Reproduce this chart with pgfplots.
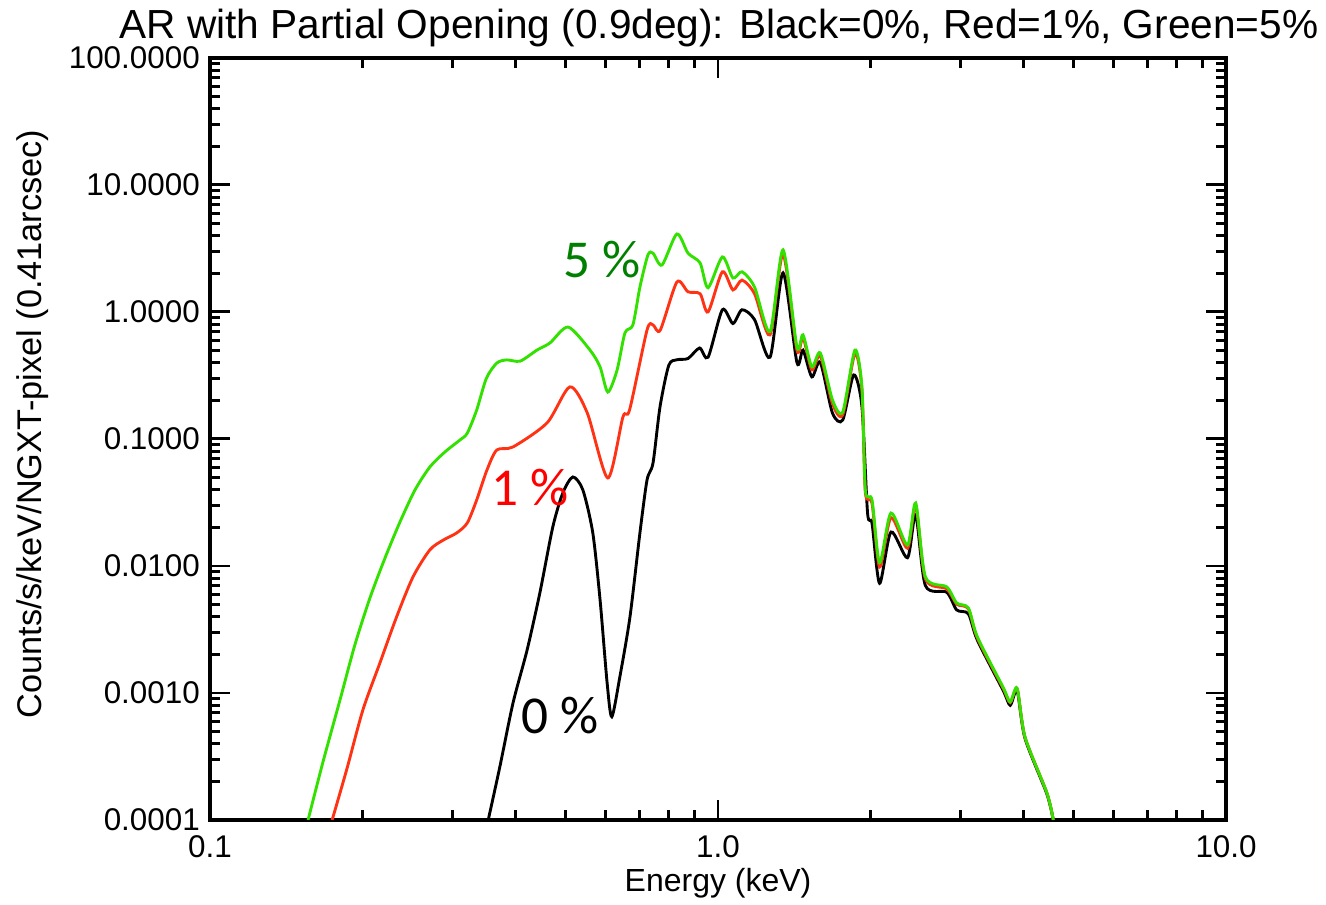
\documentclass[border=0pt]{standalone}
\usepackage{fontspec}
\setmainfont{Liberation Sans}
\newfontfamily\calib{Carlito}
\usepackage{pgfplots}
\pgfplotsset{compat=1.18}
\definecolor{lgreen}{RGB}{50,225,0}
\definecolor{lred}{RGB}{255,50,20}
\definecolor{dgreen}{RGB}{0,128,0}
\begin{document}
\begin{tikzpicture}[x=1pt,y=1pt]
\useasboundingbox (-72.9,-29.2) rectangle (387.5,284.7);
\begin{axis}[at={(0,0)}, anchor=south west, scale only axis,
 width=352.8pt, height=264.6pt,
 xmode=log, ymode=log, xmin=0.1, xmax=10, ymin=1e-4, ymax=100,
 xtick={0.1,1,10}, xticklabels={0.1,1.0,10.0},
 ytick={1e-4,1e-3,1e-2,1e-1,1,10,100},
 yticklabels={0.0001,0.0010,0.0100,0.1000,1.0000,10.0000,100.0000},
 minor xtick={0.2,0.3,0.4,0.5,0.6,0.7,0.8,0.9,2,3,4,5,6,7,8,9},
 minor ytick={2e-4,3e-4,4e-4,5e-4,6e-4,7e-4,8e-4,9e-4,
   2e-3,3e-3,4e-3,5e-3,6e-3,7e-3,8e-3,9e-3,
   2e-2,3e-2,4e-2,5e-2,6e-2,7e-2,8e-2,9e-2,
   0.2,0.3,0.4,0.5,0.6,0.7,0.8,0.9,
   2,3,4,5,6,7,8,9,20,30,40,50,60,70,80,90},
 major tick length=7pt, minor tick length=3.5pt,
 every tick/.style={black, line width=1pt},
 axis line style={line width=1.4pt},
 tick label style={font=\fontsize{10.9}{12}\selectfont},
 xticklabel style={yshift=-2pt},
 clip=true,
]
\addplot[black, line width=1pt, smooth, tension=0.45] coordinates {
(0.353,0.0001) (0.372,0.000261) (0.395,0.000834) (0.421,0.00218) (0.446,0.00613)
(0.473,0.0203) (0.495,0.0376) (0.518,0.0502) (0.542,0.0397) (0.567,0.0182)
(0.586,0.0054) (0.605,0.0012) (0.618,0.00065) (0.641,0.00134) (0.671,0.00396)
(0.702,0.0182) (0.725,0.0475) (0.745,0.0647) (0.769,0.179) (0.800,0.38)
(0.830,0.42) (0.873,0.43) (0.92,0.52)
(0.956,0.44) (1.02,1.04) (1.07,0.81) (1.115,1.04) (1.18,0.87) (1.266,0.44)
(1.343,2.03) (1.43,0.40) (1.47,0.50) (1.53,0.308) (1.59,0.40) (1.68,0.16)
(1.76,0.141) (1.85,0.319) (1.92,0.18) (1.97,0.0261) (2.01,0.0216) (2.08,0.0073)
(2.19,0.0185) (2.36,0.0116) (2.45,0.0252) (2.56,0.0070) (2.82,0.0062)
(2.95,0.0045) (3.11,0.0042) (3.24,0.0026) (3.64,0.00105) (3.76,0.00080)
(3.88,0.00104) (4.02,0.00044) (4.44,0.00016) (4.57,0.0001)
};
\addplot[lred, line width=1pt, smooth, tension=0.45] coordinates {
(0.174,0.0001) (0.186,0.000252) (0.200,0.000734) (0.216,0.00172) (0.233,0.00397)
(0.251,0.0082) (0.271,0.0134) (0.288,0.016) (0.306,0.0182) (0.321,0.0218)
(0.335,0.0331) (0.351,0.057) (0.367,0.0819) (0.395,0.0865)
(0.461,0.134) (0.511,0.257) (0.553,0.160) (0.607,0.0493) (0.650,0.149)
(0.670,0.17) (0.725,0.72) (0.745,0.79) (0.770,0.72) (0.830,1.72) (0.873,1.44)
(0.922,1.39) (0.956,1.0) (1.02,2.07) (1.07,1.49) (1.115,1.78) (1.18,1.39)
(1.266,0.66) (1.343,2.85) (1.43,0.50) (1.47,0.63) (1.53,0.35) (1.59,0.45)
(1.68,0.19) (1.76,0.155) (1.86,0.47) (1.92,0.245) (1.95,0.038) (2.01,0.031)
(2.08,0.0098) (2.19,0.024) (2.36,0.0138) (2.45,0.030) (2.56,0.0079)
(2.82,0.0066) (2.95,0.0050) (3.11,0.0046) (3.24,0.0027) (3.64,0.00109)
(3.76,0.00084) (3.88,0.00108) (4.02,0.00045) (4.44,0.000163) (4.57,0.0001)
};
\addplot[lgreen, line width=1pt, smooth, tension=0.45] coordinates {
(0.156,0.0001) (0.1669,0.000286) (0.1803,0.000881) (0.1929,0.00239) (0.2065,0.0056)
(0.2211,0.01156) (0.2366,0.0222) (0.2533,0.0397) (0.271,0.0602) (0.2902,0.0791)
(0.3106,0.0982) (0.321,0.111) (0.335,0.169) (0.350,0.30) (0.367,0.396)
(0.384,0.419) (0.408,0.41) (0.440,0.50) (0.467,0.57) (0.507,0.76) (0.560,0.50)
(0.586,0.369) (0.607,0.234) (0.633,0.349) (0.656,0.684) (0.680,0.79)
(0.702,1.57) (0.728,2.81) (0.745,2.9) (0.776,2.34) (0.830,4.11) (0.873,2.9)
(0.922,2.43) (0.956,1.55) (1.02,2.71) (1.07,1.85) (1.115,2.07) (1.18,1.57)
(1.266,0.70) (1.343,3.08) (1.43,0.53) (1.47,0.66) (1.53,0.369) (1.59,0.475)
(1.68,0.203) (1.76,0.163) (1.86,0.50) (1.92,0.257) (1.95,0.0396) (2.01,0.033)
(2.08,0.0106) (2.19,0.0261) (2.36,0.0146) (2.45,0.0313) (2.56,0.0082)
(2.82,0.00684) (2.95,0.00511) (3.11,0.00467) (3.24,0.00276) (3.64,0.00111)
(3.76,0.00085) (3.88,0.00109) (4.02,0.00045) (4.44,0.000163) (4.57,0.0001)
};
\node[text=dgreen, font=\calib\fontsize{18.5}{20}\selectfont] at (axis cs:0.591,2.57) {5 \%};
\node[text=red, font=\calib\fontsize{18.5}{20}\selectfont] at (axis cs:0.427,0.0411) {1 \%};
\node[text=black, font=\calib\fontsize{18.5}{20}\selectfont] at (axis cs:0.489,0.00066) {0 \%};
\end{axis}
\node[font=\fontsize{14.1}{16}\selectfont] at (176.7,275) {AR with Partial Opening (0.9deg): Black=0\%, Red=1\%, Green=5\%};
\node[font=\fontsize{11.1}{13}\selectfont] at (176.4,-21.9) {Energy (keV)};
\node[font=\fontsize{11.9}{13}\selectfont, rotate=90] at (-61.5,137.5) {Counts/s/keV/NGXT-pixel (0.41arcsec)};
\end{tikzpicture}
\end{document}
